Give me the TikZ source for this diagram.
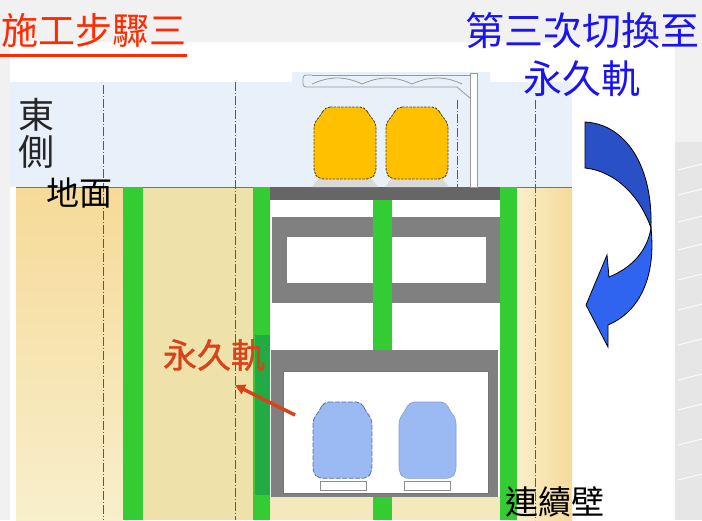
\documentclass[tikz,border=0pt]{standalone}
\usepackage{fontspec}
\usetikzlibrary{arrows.meta}
\newfontfamily\cjk{Noto Sans CJK TC}
\newfontfamily\cjkbold[FakeBold=1.2]{Noto Sans CJK TC}
\definecolor{slideBg}{HTML}{F1F1F1}
\definecolor{texGray}{HTML}{E6E6E6}
\definecolor{skyBlue}{HTML}{E8F0F9}
\definecolor{soilTop}{HTML}{F6DA98}
\definecolor{soilLow}{HTML}{F8EFCB}
\definecolor{soilMid}{HTML}{EFE1AA}
\definecolor{soilBase}{HTML}{F4E9BC}
\definecolor{wallGreen}{HTML}{33CC33}
\definecolor{wallDark}{HTML}{22AA44}
\definecolor{slabGray}{HTML}{666666}
\definecolor{frameGray}{HTML}{808080}
\definecolor{carYellow}{HTML}{FFC000}
\definecolor{carYellowEdge}{HTML}{5A4A20}
\definecolor{carBlue}{HTML}{9BB9F2}
\definecolor{carBlueEdge}{HTML}{5A70A0}
\definecolor{titleRed}{HTML}{FF2A00}
\definecolor{noteRed}{HTML}{D8431A}
\definecolor{noteBlue}{HTML}{1A14F0}
\definecolor{arrowDeep}{HTML}{2A50C8}
\definecolor{arrowLight}{HTML}{2E64F0}
\begin{document}
\begin{tikzpicture}[x=1pt,y=-1pt,
  axis/.style={draw=black!65, line width=0.7pt, dash pattern=on 9pt off 2pt on 1pt off 2pt},
  wall/.style={fill=wallGreen},
  frame/.style={fill=frameGray},
  truss/.style={draw=black!40, line width=0.8pt},
  car/.pic={
    \path[pic actions, rounded corners=5pt]
      (11,0) -- (51,0) -- (55,8) -- (62,16) -- (62,66) -- (57,72)
      -- (5,72) -- (0,66) -- (0,16) -- (7,8) -- cycle;
  },
  txt/.style={inner sep=0pt, font=\cjk\fontsize{33}{35}\selectfont}
]
\useasboundingbox (0,0) rectangle (702,520);

% slide background and white panel
\fill[slideBg] (0,0) rectangle (702,520);
\fill[white] (10,42) rectangle (675,520);
\fill[texGray] (675,142) rectangle (702,520);
\foreach \yy in {170,195,222,250,280,310,345,380,410,445,480}
  \draw[white, line width=0.8pt] (678,\yy) -- (702,\yy-6);

% sky
\fill[skyBlue] (10,82) -- (292,82) -- (292,72) -- (490,72) -- (490,82)
  -- (572,82) -- (572,187) -- (10,187) -- cycle;

% soil
\shade[top color=soilTop, bottom color=soilLow] (16,187) rectangle (123,520);
\fill[soilMid] (143,187) rectangle (253,520);
\shade[left color=soilLow, right color=soilTop] (517,187) rectangle (572,520);
\fill[soilBase] (270,497) rectangle (500,520);
\draw[black!55, line width=0.6pt] (16,187) -- (572,187);

% station box interior
\fill[white] (270,187) rectangle (500,497);
% roof slab
\fill[slabGray] (268,187) rectangle (503,200);
% upper concourse frame
\fill[frame] (272,217) rectangle (500,303);
\fill[white] (287,237) rectangle (486,283);
% lower platform frame
\fill[frame] (271,350) rectangle (498,497);
\fill[white, draw=black!55, line width=0.6pt] (283,371) rectangle (488,493);

% diaphragm walls and central column
\fill[wall] (123,187) rectangle (143,520);
\fill[wall] (253,187) rectangle (270,520);
\fill[wallDark] (255,335) rectangle (270,495);
\fill[wall] (500,187) rectangle (517,520);
\fill[wall] (373,200) rectangle (392,350);
\fill[wall] (373,497) rectangle (392,520);

% track centre lines
\draw[axis] (103,85) -- (103,520);
\draw[axis] (235,82) -- (235,520);
\draw[axis] (457,100) -- (457,187);
\draw[axis] (535,100) -- (535,520);

% overhead line gantry
\draw[truss, fill=white] (470,73) rectangle (477,187);
\draw[truss, rounded corners=3pt] (312,75) -- (303,75) -- (303,87) -- (312,87);
\draw[truss] (312,75) -- (470,75);
\draw[truss] (312,87) -- (457,87) -- (470,98);
\draw[truss] (312,84) .. controls (330,76) and (345,76) .. (362,84)
  .. controls (380,76) and (395,76) .. (412,84)
  .. controls (430,76) and (445,76) .. (462,84);

% temporary-track cars at grade
\fill[black!15] (318,179) -- (372,179) -- (378,187) -- (312,187) -- cycle;
\fill[black!15] (391,179) -- (443,179) -- (449,187) -- (385,187) -- cycle;
\pic[fill=carYellow, draw=carYellowEdge, line width=0.9pt, dash pattern=on 2.5pt off 1.2pt] at (314,107) {car};
\pic[fill=carYellow, draw=carYellowEdge, line width=0.9pt, dash pattern=on 2.5pt off 1.2pt] at (386,107) {car};

% permanent-track cars underground
\draw[black!45, fill=white, line width=0.6pt] (320,481) rectangle (366,490);
\draw[black!45, fill=white, line width=0.6pt] (404,481) rectangle (450,490);
\pic[fill=carBlue, draw=carBlueEdge, line width=0.8pt, dash pattern=on 5pt off 1.5pt, xscale=0.95, yscale=1.06] at (313,402) {car};
\pic[fill=carBlue, draw=carBlue!85!black, line width=0.6pt, xscale=0.92, yscale=1.06] at (399,402) {car};

% switch-over arrow
\fill[arrowDeep, draw=black, line width=0.8pt]
  (585,122) .. controls (625,124) and (653,165) .. (651,228)
  .. controls (640,196) and (615,171) .. (585,168) -- cycle;
\fill[arrowLight, draw=black, line width=0.8pt]
  (651,228) .. controls (656,275) and (641,311) .. (608,325)
  -- (608,347) -- (586,305) -- (607,255) -- (609,277)
  .. controls (631,268) and (647,252) .. (651,228) -- cycle;

% titles and labels
\node[inner sep=0pt, anchor=west, text=titleRed, font=\cjk\fontsize{37}{39}\selectfont] (title) at (1,30) {施工步驟三};
\draw[titleRed, line width=3pt] (0,55) -- (187,55);
\node[inner sep=0pt, text=noteBlue, font=\cjk\fontsize{39}{41}\selectfont] (swA) at (582,31) {第三次切換至};
\node[inner sep=0pt, text=noteBlue, font=\cjk\fontsize{39}{41}\selectfont] (swB) at (582,79) {永久軌};
\node[inner sep=0pt, align=center, font=\cjk\fontsize{36}{37}\selectfont, text=black!85] (east) at (37,133) {東\\側};
\node[txt, text=black] (ground) at (79,193) {地面};
\node[txt, text=black] (dwall) at (555,502) {連續壁};
\node[inner sep=0pt, text=noteRed, font=\cjkbold\fontsize{34}{36}\selectfont] (ptrack) at (214,355) {永久軌};

% pointer to the permanent track line
\coordinate (ptail) at (295,415);
\coordinate (phead) at (235,385);
\draw[noteRed, line width=3.5pt, -{Triangle[length=10pt,width=10pt]}] (ptail) -- (phead);
\end{tikzpicture}
\end{document}
